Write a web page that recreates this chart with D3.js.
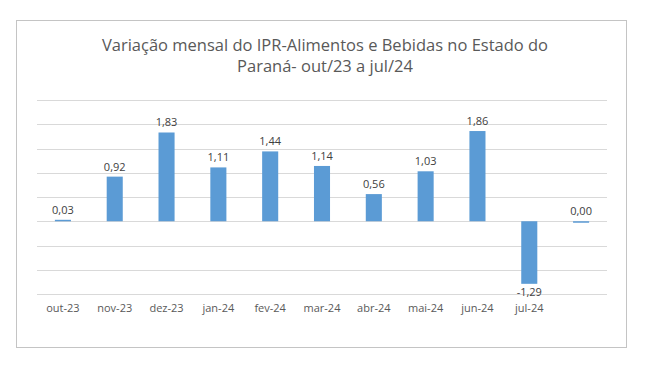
<!DOCTYPE html>
<html>
<head>
<meta charset="utf-8">
<script src="https://cdn.jsdelivr.net/npm/d3@7"></script>
<style>
  html, body { margin: 0; padding: 0; background: #fff; }
  #chart { width: 648px; height: 368px; }
  text { font-family: "Open Sans", "Liberation Sans", sans-serif; }
</style>
</head>
<body>
<div id="chart"></div>
<script>
// Monthly IPR food & beverages variation, Paraná (Excel-style column chart)

const categories = ['out-23', 'nov-23', 'dez-23', 'jan-24', 'fev-24', 'mar-24', 'abr-24', 'mai-24', 'jun-24', 'jul-24', ''];
const values = [0.03, 0.92, 1.83, 1.11, 1.44, 1.14, 0.56, 1.03, 1.86, -1.29, 0.00];
const yTicks = [-1.5, -1, -0.5, 0, 0.5, 1, 1.5, 2, 2.5];
const titleLines = ['Variação mensal do IPR-Alimentos e Bebidas no Estado do', 'Paraná- out/23 a jul/24'];

const W = 648, H = 368;
const margin = { top: 100, right: 41, bottom: 74, left: 37 };
const innerW = W - margin.left - margin.right;
const innerH = H - margin.top - margin.bottom;

const svg = d3.select('#chart').append('svg')
  .attr('width', W).attr('height', H)
  .attr('viewBox', `0 0 ${W} ${H}`);

// chart area border
svg.append('rect')
  .attr('x', 16.5).attr('y', 20.5)
  .attr('width', 610).attr('height', 327)
  .attr('fill', '#fff').attr('stroke', '#c4c4c4');

// title
svg.append('text')
  .attr('x', 325).attr('y', 51)
  .attr('text-anchor', 'middle')
  .style('font-size', '16.5px').style('fill', '#595959')
  .selectAll('tspan').data(titleLines).enter().append('tspan')
  .attr('x', 325).attr('dy', (d, i) => i === 0 ? 0 : 21)
  .text((d) => d);

const g = svg.append('g').attr('transform', `translate(${margin.left}, ${margin.top})`);

const x = d3.scaleBand().domain(d3.range(categories.length)).range([0, innerW]).paddingInner(0.69).paddingOuter(0.345);
const y = d3.scaleLinear().domain([-1.5, 2.5]).range([innerH, 0]);

// gridlines
g.selectAll('.grid').data(yTicks).enter().append('line')
  .attr('x1', 0).attr('x2', innerW)
  .attr('y1', (d) => Math.round(y(d)) + 0.5).attr('y2', (d) => Math.round(y(d)) + 0.5)
  .attr('stroke', '#d9d9d9').attr('stroke-width', 1);

// bars
g.selectAll('.bar').data(values).enter().append('rect')
  .attr('x', (d, i) => x(i))
  .attr('y', (d) => y(Math.max(0, d)))
  .attr('width', x.bandwidth())
  .attr('height', (d) => Math.max(1.5, Math.abs(y(d) - y(0))))
  .attr('fill', '#5b9bd5');

// data labels
const fmt = (v) => v.toFixed(2).replace('.', ',');
g.selectAll('.lbl').data(values).enter().append('text')
  .attr('x', (d, i) => x(i) + x.bandwidth() / 2)
  .attr('y', (d) => d >= 0 ? y(d) - 6 : y(d) + 12)
  .attr('text-anchor', 'middle')
  .style('font-size', '11px').style('fill', '#404040')
  .text((d) => fmt(d));

// category axis labels
g.selectAll('.cat').data(categories).enter().append('text')
  .attr('x', (d, i) => x(i) + x.bandwidth() / 2)
  .attr('y', innerH + 18)
  .attr('text-anchor', 'middle')
  .style('font-size', '11px').style('fill', '#595959')
  .text((d) => d);
</script>
</body>
</html>
